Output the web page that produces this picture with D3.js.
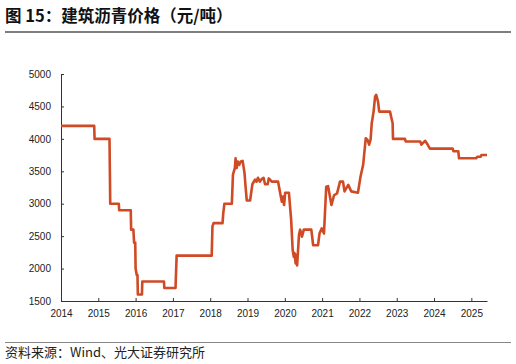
<!DOCTYPE html>
<html>
<head>
<meta charset="utf-8">
<script src="https://cdn.jsdelivr.net/npm/d3@7"></script>
<style>
  body { margin: 0; background: #fff; }
  svg { display: block; }
  .axis text { font-family: "Liberation Sans", Arial, sans-serif; font-size: 10px; fill: #222; }
  .axis path, .axis line { stroke: #333; }
</style>
</head>
<body>
<script>
// decimal year of each reading, and price (yuan/ton)
var years = [2014.00, 2014.89, 2014.90, 2015.30, 2015.31, 2015.32, 2015.55, 2015.56, 2015.87, 2015.88,
  2015.94, 2015.96, 2015.99, 2016.00, 2016.03, 2016.05, 2016.06, 2016.17, 2016.18, 2016.76,
  2016.77, 2017.07, 2017.10, 2018.04, 2018.06, 2018.09, 2018.33, 2018.35, 2018.38, 2018.58,
  2018.61, 2018.66, 2018.68, 2018.71, 2018.74, 2018.78, 2018.82, 2018.87, 2018.92, 2018.95,
  2018.98, 2019.07, 2019.13, 2019.20, 2019.24, 2019.28, 2019.33, 2019.38, 2019.43, 2019.47,
  2019.54, 2019.57, 2019.65, 2019.82, 2019.87, 2019.92, 2019.95, 2019.98, 2020.01, 2020.11,
  2020.17, 2020.21, 2020.24, 2020.26, 2020.29, 2020.31, 2020.33, 2020.38, 2020.41, 2020.46,
  2020.51, 2020.71, 2020.76, 2020.89, 2020.93, 2020.99, 2021.05, 2021.11, 2021.16, 2021.25,
  2021.32, 2021.40, 2021.48, 2021.56, 2021.60, 2021.70, 2021.78, 2021.96, 2022.03, 2022.10,
  2022.17, 2022.22, 2022.26, 2022.30, 2022.33, 2022.38, 2022.42, 2022.45, 2022.50, 2022.53,
  2022.82, 2022.85, 2022.89, 2022.90, 2023.22, 2023.24, 2023.63, 2023.66, 2023.76, 2023.82,
  2023.89, 2024.50, 2024.52, 2024.65, 2024.67, 2025.13, 2025.16, 2025.25, 2025.27, 2025.42];

var prices = [4200, 4200, 4000, 4000, 3500, 3000, 3000, 2900, 2900, 2600,
  2600, 2400, 2400, 2000, 1900, 1900, 1600, 1600, 1800, 1800,
  1700, 1700, 2200, 2200, 2650, 2700, 2700, 2850, 3000, 3000,
  3450, 3550, 3700, 3550, 3650, 3600, 3650, 3660, 3470, 3250,
  3050, 3050, 3300, 3370, 3340, 3400, 3340, 3380, 3400, 3300,
  3300, 3390, 3340, 3340, 3180, 3030, 3110, 2980, 3170, 3170,
  2750, 2290, 2180, 2240, 2080, 2210, 2050, 2520, 2600, 2490,
  2600, 2600, 2360, 2360, 2540, 2620, 2540, 3260, 3270, 2980,
  3130, 3160, 3340, 3340, 3190, 3290, 3190, 3170, 3420, 3600,
  4010, 3980, 3910, 3990, 4240, 4420, 4650, 4680, 4570, 4420,
  4420, 4340, 4240, 4000, 4000, 3960, 3960, 3910, 3970, 3920,
  3850, 3850, 3810, 3810, 3700, 3700, 3725, 3725, 3750, 3750];

var xTicks = [2014, 2015, 2016, 2017, 2018, 2019, 2020, 2021, 2022, 2023, 2024, 2025];
var yTicks = [1500, 2000, 2500, 3000, 3500, 4000, 4500, 5000];

var titleText = "图 15：建筑沥青价格（元/吨）";
var sourceText = "资料来源：Wind、光大证券研究所";

var outerWidth = 516,
    outerHeight = 364,
    plot = { left: 61, right: 487, top: 74, bottom: 301 };

var svg = d3.select("body")
            .append("svg")
            .attr("width", outerWidth)
            .attr("height", outerHeight);

// Title and rule under it
svg.append("text")
   .attr("x", 5)
   .attr("y", 22)
   .attr("font-family", "'Noto Sans CJK SC', sans-serif")
   .attr("font-weight", "bold")
   .attr("font-size", 16.5)
   .attr("fill", "#111")
   .text(titleText);

svg.append("line")
   .attr("x1", 5).attr("x2", 511)
   .attr("y1", 32).attr("y2", 32)
   .attr("stroke", "#7f7f7f")
   .attr("stroke-width", 2);

// Scales
var xScale = d3.scaleLinear()
               .domain([2014, 2025.42])
               .range([plot.left, plot.right]);

var yScale = d3.scaleLinear()
               .domain([1500, 5000])
               .range([plot.bottom, plot.top]);

// X axis
svg.append("g")
   .attr("class", "axis")
   .attr("transform", "translate(0," + plot.bottom + ")")
   .call(d3.axisBottom(xScale)
           .tickValues(xTicks)
           .tickFormat(d3.format("d"))
           .tickSizeInner(-3)
           .tickSizeOuter(0)
           .tickPadding(9));

// Y axis
svg.append("g")
   .attr("class", "axis")
   .attr("transform", "translate(" + plot.left + ",0)")
   .call(d3.axisLeft(yScale)
           .tickValues(yTicks)
           .tickFormat(d3.format("d"))
           .tickSizeInner(-3)
           .tickSizeOuter(0)
           .tickPadding(10));

// Price line
var points = years.map(function (y, i) { return [y, prices[i]]; });

var line = d3.line()
             .x(function (d) { return xScale(d[0]); })
             .y(function (d) { return yScale(d[1]); });

svg.append("path")
   .datum(points)
   .attr("fill", "none")
   .attr("stroke", "#d04a25")
   .attr("stroke-width", 2.6)
   .attr("stroke-linejoin", "round")
   .attr("d", line);

// Source note
svg.append("line")
   .attr("x1", 5).attr("x2", 511)
   .attr("y1", 342.5).attr("y2", 342.5)
   .attr("stroke", "#888")
   .attr("stroke-width", 1);

svg.append("text")
   .attr("x", 5)
   .attr("y", 357)
   .attr("font-family", "'Noto Sans CJK SC', sans-serif")
   .attr("font-size", 13)
   .attr("fill", "#222")
   .text(sourceText);
</script>
</body>
</html>
